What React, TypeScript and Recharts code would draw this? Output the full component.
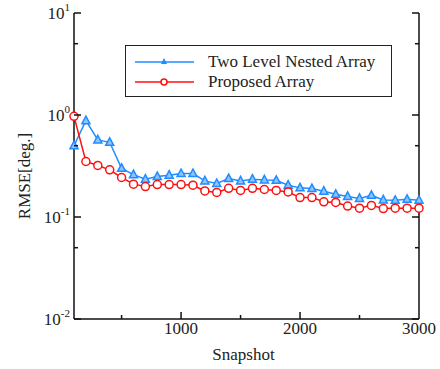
import { LineChart, Line, XAxis, YAxis, Legend } from "recharts";

const snapshots = [
  100, 200, 300, 400, 500, 600, 700, 800, 900, 1000, 1100, 1200, 1300, 1400, 1500,
  1600, 1700, 1800, 1900, 2000, 2100, 2200, 2300, 2400, 2500, 2600, 2700, 2800, 2900, 3000,
];

const nestedRmse = [
  0.5, 0.88, 0.57, 0.54, 0.3, 0.26, 0.235, 0.249, 0.257, 0.267, 0.267, 0.226, 0.213, 0.238, 0.226,
  0.235, 0.231, 0.229, 0.205, 0.193, 0.19, 0.179, 0.167, 0.159, 0.152, 0.163, 0.147, 0.146, 0.149, 0.146,
];

const proposedRmse = [
  0.97, 0.35, 0.32, 0.29, 0.244, 0.21, 0.199, 0.208, 0.208, 0.208, 0.205, 0.18, 0.174, 0.191, 0.182,
  0.191, 0.186, 0.182, 0.176, 0.155, 0.155, 0.141, 0.139, 0.128, 0.122, 0.13, 0.121, 0.122, 0.122, 0.122,
];

const xTicks = [500, 1000, 1500, 2000, 2500, 3000];
const xLabelled = [1000, 2000, 3000];
const yTicks = [0.01, 0.05, 0.1, 0.5, 1, 5, 10];

const BLUE = "#1f8cff";
const RED = "#ff1010";
const FONT = "'Liberation Serif', 'Times New Roman', serif";

const data = snapshots.map((s, i) => ({
  snapshot: s,
  nested: nestedRmse[i],
  proposed: proposedRmse[i],
}));

function isDecade(v: number) {
  const l = Math.log10(v);
  return Math.abs(l - Math.round(l)) < 1e-6;
}

function LeftTick(props: any) {
  const { x, y, payload } = props;
  const v = payload.value;
  const major = isDecade(v);
  const exp = Math.round(Math.log10(v));
  return (
    <g>
      <line x1={x} x2={x + (major ? 7 : 4)} y1={y} y2={y} stroke="#111" strokeWidth={1.5} />
      {major && (
        <text x={x - 4} y={y + 6} textAnchor="end" style={{ fontFamily: FONT }} fontSize={17} fill="#222">
          10
          <tspan dy={-8} fontSize={11}>
            {exp}
          </tspan>
        </text>
      )}
    </g>
  );
}

function RightTick(props: any) {
  const { x, y, payload } = props;
  const major = isDecade(payload.value);
  return <line x1={x} x2={x - (major ? 7 : 4)} y1={y} y2={y} stroke="#111" strokeWidth={1.5} />;
}

function BottomTick(props: any) {
  const { x, y, payload } = props;
  const v = payload.value;
  const major = xLabelled.includes(v);
  return (
    <g>
      {v < 3000 && (
        <line x1={x} x2={x} y1={y} y2={y - (major ? 7 : 4)} stroke="#111" strokeWidth={1.5} />
      )}
      {major && (
        <text x={x} y={y + 15} textAnchor="middle" style={{ fontFamily: FONT }} fontSize={17} fill="#222">
          {v}
        </text>
      )}
    </g>
  );
}

function Triangle(props: any) {
  const { cx, cy, index } = props;
  if (cx == null || cy == null) return <g key={`t-${index}`} />;
  return (
    <polygon
      key={`t-${index}`}
      points={`${cx},${cy - 4.5} ${cx - 4},${cy + 3} ${cx + 4},${cy + 3}`}
      fill="#8cc4ff"
      stroke={BLUE}
      strokeWidth={1.5}
    />
  );
}

function Circle(props: any) {
  const { cx, cy, index } = props;
  if (cx == null || cy == null) return <g key={`c-${index}`} />;
  return <circle key={`c-${index}`} cx={cx} cy={cy} r={4} fill="#fff" stroke={RED} strokeWidth={1.5} />;
}

function LegendBox() {
  const rows = [
    { name: "Two Level Nested Array", color: BLUE, shape: "tri" },
    { name: "Proposed Array", color: RED, shape: "circ" },
  ];
  return (
    <div
      style={{
        width: 267,
        height: 52,
        border: "1.5px solid #222",
        background: "#fff",
        boxSizing: "border-box",
        paddingTop: 6,
      }}
    >
      {rows.map((r) => (
        <div key={r.name} style={{ display: "flex", alignItems: "center", height: 20 }}>
          <svg width={82} height={20} style={{ flex: "none" }}>
            <line x1={9} x2={68} y1={10} y2={10} stroke={r.color} strokeWidth={1.5} />
            {r.shape === "tri" ? (
              <polygon points="38,6 35,12 41,12" fill={r.color} />
            ) : (
              <circle cx={38} cy={10} r={3} fill="#fff" stroke={r.color} strokeWidth={1.5} />
            )}
          </svg>
          <span style={{ fontFamily: FONT, fontSize: 17, color: "#222", lineHeight: "20px" }}>
            {r.name}
          </span>
        </div>
      ))}
    </div>
  );
}

export default function App() {
  return (
    <div style={{ position: "absolute", left: 0, top: 0, width: 440, height: 369, background: "#fff" }}>
      <LineChart width={440} height={369} data={data} margin={{ top: 13, right: 0, left: 0, bottom: 0 }}>
        <XAxis
          dataKey="snapshot"
          type="number"
          domain={[100, 3000]}
          ticks={xTicks}
          interval={0}
          tickSize={0}
          tickMargin={0}
          tick={<BottomTick />}
          tickLine={false}
          axisLine={{ stroke: "#111", strokeWidth: 1.5 }}
          height={50}
          label={({ viewBox }: any) => (
            <text
              x={viewBox.x + viewBox.width / 2 - 3}
              y={viewBox.y + 41}
              textAnchor="middle"
              style={{ fontFamily: FONT }}
              fontSize={17}
              fill="#222"
            >
              Snapshot
            </text>
          )}
        />
        <XAxis
          xAxisId="top"
          orientation="top"
          dataKey="snapshot"
          type="number"
          domain={[100, 3000]}
          height={0}
          tick={false}
          tickLine={false}
          axisLine={{ stroke: "#111", strokeWidth: 1.5 }}
        />
        <YAxis
          type="number"
          scale="log"
          domain={[0.01, 10]}
          ticks={yTicks}
          interval={0}
          allowDataOverflow
          width={74}
          tickSize={0}
          tickMargin={0}
          tick={<LeftTick />}
          tickLine={false}
          axisLine={{ stroke: "#111", strokeWidth: 1.5 }}
          label={({ viewBox }: any) => (
            <text
              x={viewBox.x + 30}
              y={viewBox.y + viewBox.height / 2 + 10}
              transform={`rotate(-90, ${viewBox.x + 30}, ${viewBox.y + viewBox.height / 2 + 10})`}
              textAnchor="middle"
              style={{ fontFamily: FONT }}
              fontSize={17}
              fill="#222"
            >
              RMSE[deg.]
            </text>
          )}
        />
        <YAxis
          yAxisId="right"
          orientation="right"
          type="number"
          scale="log"
          domain={[0.01, 10]}
          ticks={yTicks}
          interval={0}
          allowDataOverflow
          width={21}
          tickSize={0}
          tickMargin={0}
          tick={<RightTick />}
          tickLine={false}
          axisLine={{ stroke: "#111", strokeWidth: 1.5 }}
        />
        <Legend
          content={<LegendBox />}
          layout="horizontal"
          verticalAlign="middle"
          align="center"
          wrapperStyle={{ position: "absolute", left: 125, top: 45, width: 267, bottom: "auto" }}
        />
        <Line
          dataKey="nested"
          name="Two Level Nested Array"
          stroke={BLUE}
          strokeWidth={1.5}
          dot={Triangle}
          isAnimationActive={false}
        />
        <Line
          dataKey="proposed"
          name="Proposed Array"
          stroke={RED}
          strokeWidth={1.5}
          dot={Circle}
          isAnimationActive={false}
        />
      </LineChart>
    </div>
  );
}
